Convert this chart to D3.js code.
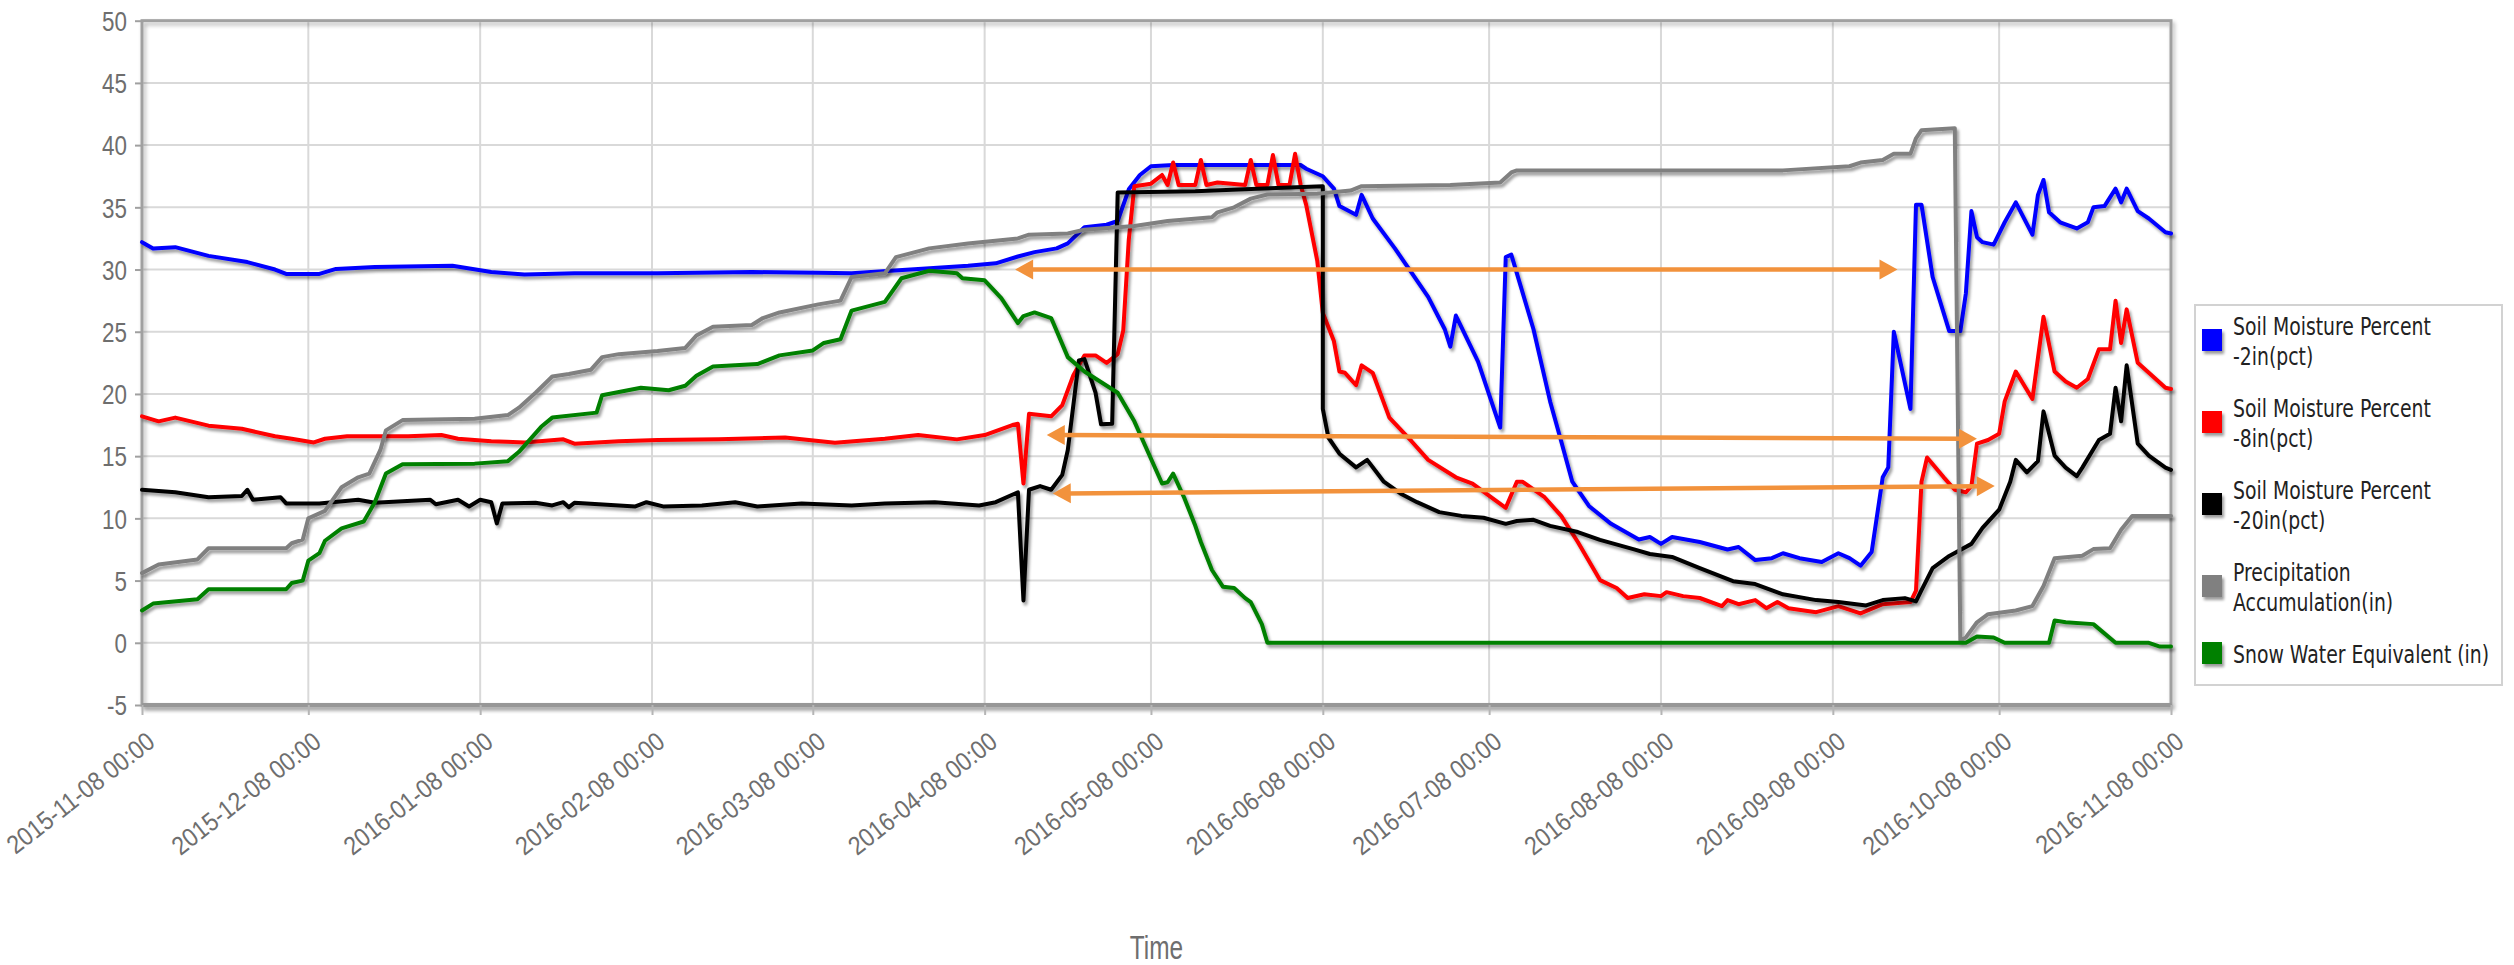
<!DOCTYPE html>
<html>
<head>
<meta charset="utf-8">
<script src="https://cdn.jsdelivr.net/npm/d3@7"></script>
<style>
  html, body { margin: 0; padding: 0; background: #ffffff; }
  svg { display: block; }
</style>
</head>
<body>
<svg id="chart" width="2514" height="965"></svg>
<script>
// ---- data -------------------------------------------------------------
const monthTicks = ["2015-11-08","2015-12-08","2016-01-08","2016-02-08","2016-03-08","2016-04-08",
  "2016-05-08","2016-06-08","2016-07-08","2016-08-08","2016-09-08","2016-10-08","2016-11-08"];
const valueTicks = [-5, 0, 5, 10, 15, 20, 25, 30, 35, 40, 45, 50];

const soilMoisture2in = [
  ["2015-11-08",32.2],["2015-11-10",31.7],["2015-11-14",31.8],["2015-11-20",31.1],["2015-11-27",30.6],
  ["2015-12-02",30.0],["2015-12-04",29.65],["2015-12-10",29.65],["2015-12-13",30.05],["2015-12-20",30.2],
  ["2016-01-03",30.3],["2016-01-10",29.8],["2016-01-16",29.6],["2016-01-25",29.7],["2016-02-09",29.7],
  ["2016-02-26",29.8],["2016-03-09",29.75],["2016-03-15",29.7],["2016-03-27",30.05],["2016-04-05",30.3],
  ["2016-04-10",30.5],["2016-04-14",31.05],["2016-04-17",31.4],["2016-04-21",31.7],["2016-04-23",32.1],
  ["2016-04-26",33.4],["2016-04-30",33.6],["2016-05-02",33.9],["2016-05-04",36.45],["2016-05-06",37.6],
  ["2016-05-08",38.3],["2016-05-12",38.4],["2016-06-04",38.4],["2016-06-05",38.1],["2016-06-08",37.5],
  ["2016-06-10",36.5],["2016-06-11",35.1],["2016-06-14",34.4],["2016-06-15",36.0],["2016-06-17",34.1],
  ["2016-06-21",31.7],["2016-06-27",27.8],["2016-06-30",25.2],["2016-07-01",23.8],["2016-07-02",26.3],
  ["2016-07-06",22.6],["2016-07-10",17.3],["2016-07-11",31.0],["2016-07-12",31.2],["2016-07-16",25.2],
  ["2016-07-19",19.4],["2016-07-21",16.2],["2016-07-23",12.95],["2016-07-26",11.0],["2016-07-30",9.56],
  ["2016-08-04",8.3],["2016-08-06",8.5],["2016-08-08",7.95],["2016-08-10",8.5],["2016-08-15",8.1],
  ["2016-08-20",7.5],["2016-08-22",7.7],["2016-08-25",6.65],["2016-08-28",6.8],["2016-08-30",7.2],
  ["2016-09-02",6.8],["2016-09-06",6.5],["2016-09-09",7.2],["2016-09-11",6.8],["2016-09-13",6.2],
  ["2016-09-15",7.3],["2016-09-17",13.3],["2016-09-18",14.1],["2016-09-19",25.0],["2016-09-22",18.8],
  ["2016-09-23",35.2],["2016-09-24",35.2],["2016-09-26",29.4],["2016-09-28",26.5],["2016-09-29",25.05],
  ["2016-10-01",25.05],["2016-10-02",28.1],["2016-10-03",34.7],["2016-10-04",32.6],["2016-10-05",32.2],
  ["2016-10-07",32.0],["2016-10-09",33.8],["2016-10-11",35.4],["2016-10-14",32.8],["2016-10-15",36.0],
  ["2016-10-16",37.2],["2016-10-17",34.6],["2016-10-19",33.8],["2016-10-22",33.3],["2016-10-24",33.8],
  ["2016-10-25",35.0],["2016-10-27",35.1],["2016-10-29",36.5],["2016-10-30",35.4],["2016-10-31",36.5],
  ["2016-11-02",34.7],["2016-11-04",34.1],["2016-11-07",33.0],["2016-11-08",32.9]
];

const soilMoisture8in = [
  ["2015-11-08",18.2],["2015-11-11",17.8],["2015-11-14",18.1],["2015-11-20",17.45],["2015-11-26",17.2],
  ["2015-12-02",16.6],["2015-12-05",16.4],["2015-12-09",16.1],["2015-12-11",16.4],["2015-12-15",16.6],
  ["2015-12-26",16.6],["2016-01-01",16.7],["2016-01-04",16.4],["2016-01-10",16.2],["2016-01-16",16.1],
  ["2016-01-23",16.35],["2016-01-25",16.0],["2016-02-02",16.2],["2016-02-09",16.3],["2016-02-20",16.35],
  ["2016-03-03",16.5],["2016-03-12",16.07],["2016-03-21",16.4],["2016-03-27",16.7],["2016-04-03",16.35],
  ["2016-04-08",16.7],["2016-04-13",17.5],["2016-04-14",17.6],["2016-04-15",12.8],["2016-04-16",18.4],
  ["2016-04-20",18.2],["2016-04-22",19.1],["2016-04-24",21.5],["2016-04-26",23.1],["2016-04-28",23.1],
  ["2016-04-30",22.5],["2016-05-02",23.2],["2016-05-03",25.1],["2016-05-04",32.4],["2016-05-05",36.7],
  ["2016-05-08",36.9],["2016-05-10",37.6],["2016-05-11",36.8],["2016-05-12",38.6],["2016-05-13",36.8],
  ["2016-05-16",36.8],["2016-05-17",38.8],["2016-05-18",36.8],["2016-05-20",37.0],["2016-05-25",36.8],
  ["2016-05-26",38.8],["2016-05-27",36.8],["2016-05-29",36.8],["2016-05-30",39.2],["2016-05-31",36.8],
  ["2016-06-02",36.8],["2016-06-03",39.3],["2016-06-04",36.8],["2016-06-05",35.2],["2016-06-07",30.7],
  ["2016-06-08",26.5],["2016-06-10",24.25],["2016-06-11",21.8],["2016-06-12",21.7],["2016-06-14",20.7],
  ["2016-06-15",22.3],["2016-06-17",21.7],["2016-06-20",18.1],["2016-06-24",16.2],["2016-06-27",14.7],
  ["2016-07-02",13.3],["2016-07-05",12.8],["2016-07-11",10.85],["2016-07-13",12.95],["2016-07-14",12.95],
  ["2016-07-18",11.7],["2016-07-21",10.2],["2016-07-24",8.1],["2016-07-28",5.04],["2016-07-31",4.4],
  ["2016-08-02",3.6],["2016-08-05",3.9],["2016-08-08",3.75],["2016-08-09",4.07],["2016-08-12",3.75],
  ["2016-08-15",3.6],["2016-08-19",2.95],["2016-08-20",3.43],["2016-08-22",3.1],["2016-08-25",3.43],
  ["2016-08-27",2.78],["2016-08-29",3.27],["2016-08-31",2.78],["2016-09-05",2.46],["2016-09-09",2.95],
  ["2016-09-13",2.36],["2016-09-17",3.1],["2016-09-22",3.27],["2016-09-23",4.2],["2016-09-24",12.95],
  ["2016-09-25",14.9],["2016-09-28",13.3],["2016-09-30",12.3],["2016-10-02",12.1],["2016-10-03",12.6],
  ["2016-10-04",16.0],["2016-10-06",16.3],["2016-10-08",16.8],["2016-10-09",19.4],["2016-10-11",21.8],
  ["2016-10-14",19.6],["2016-10-16",26.2],["2016-10-18",21.8],["2016-10-20",21.0],["2016-10-22",20.5],
  ["2016-10-24",21.2],["2016-10-26",23.6],["2016-10-28",23.6],["2016-10-29",27.5],["2016-10-30",24.1],
  ["2016-10-31",26.8],["2016-11-02",22.5],["2016-11-04",21.7],["2016-11-07",20.5],["2016-11-08",20.4]
];

const soilMoisture20in = [
  ["2015-11-08",12.3],["2015-11-14",12.1],["2015-11-20",11.7],["2015-11-26",11.8],["2015-11-27",12.3],
  ["2015-11-28",11.5],["2015-12-03",11.7],["2015-12-04",11.2],["2015-12-10",11.2],["2015-12-17",11.5],
  ["2015-12-20",11.25],["2015-12-30",11.5],["2015-12-31",11.13],["2016-01-04",11.5],["2016-01-06",10.96],
  ["2016-01-08",11.5],["2016-01-10",11.3],["2016-01-11",9.6],["2016-01-12",11.2],["2016-01-18",11.25],
  ["2016-01-21",11.04],["2016-01-23",11.3],["2016-01-24",10.9],["2016-01-25",11.25],["2016-02-05",10.96],
  ["2016-02-07",11.3],["2016-02-10",10.96],["2016-02-17",11.04],["2016-02-23",11.3],["2016-02-27",10.96],
  ["2016-03-06",11.2],["2016-03-15",11.04],["2016-03-21",11.2],["2016-03-30",11.3],["2016-04-07",11.04],
  ["2016-04-10",11.3],["2016-04-14",12.1],["2016-04-15",3.4],["2016-04-16",12.3],["2016-04-18",12.6],
  ["2016-04-20",12.3],["2016-04-22",13.5],["2016-04-23",15.5],["2016-04-25",22.7],["2016-04-26",22.8],
  ["2016-04-28",20.1],["2016-04-29",17.56],["2016-05-01",17.6],["2016-05-02",36.2],["2016-05-16",36.3],
  ["2016-06-08",36.7],["2016-06-08",18.8],["2016-06-09",16.5],["2016-06-11",15.2],["2016-06-14",14.1],
  ["2016-06-16",14.7],["2016-06-19",12.95],["2016-06-22",12.0],["2016-06-25",11.3],["2016-06-29",10.5],
  ["2016-07-03",10.2],["2016-07-07",10.05],["2016-07-11",9.56],["2016-07-13",9.79],["2016-07-16",9.88],
  ["2016-07-19",9.4],["2016-07-24",8.9],["2016-07-28",8.27],["2016-08-03",7.53],["2016-08-06",7.14],
  ["2016-08-10",6.9],["2016-08-15",6.0],["2016-08-21",4.95],["2016-08-25",4.72],["2016-08-30",3.9],
  ["2016-09-05",3.43],["2016-09-09",3.27],["2016-09-14",3.0],["2016-09-17",3.43],["2016-09-21",3.59],
  ["2016-09-23",3.33],["2016-09-24",4.23],["2016-09-26",6.0],["2016-09-29",6.98],["2016-10-03",7.95],
  ["2016-10-05",9.24],["2016-10-08",10.7],["2016-10-10",12.95],["2016-10-11",14.7],["2016-10-13",13.7],
  ["2016-10-15",14.6],["2016-10-16",18.6],["2016-10-18",15.05],["2016-10-20",14.08],["2016-10-22",13.4],
  ["2016-10-23",14.08],["2016-10-26",16.3],["2016-10-28",16.8],["2016-10-29",20.5],["2016-10-30",17.8],
  ["2016-10-31",22.3],["2016-11-02",16.0],["2016-11-04",15.05],["2016-11-07",14.08],["2016-11-08",13.9]
];

const precipAccumulation = [
  ["2015-11-08",5.6],["2015-11-11",6.3],["2015-11-18",6.7],["2015-11-20",7.6],["2015-12-04",7.6],
  ["2015-12-05",8.0],["2015-12-07",8.3],["2015-12-08",10.0],["2015-12-11",10.6],["2015-12-14",12.5],
  ["2015-12-17",13.3],["2015-12-19",13.6],["2015-12-21",15.5],["2015-12-22",17.07],["2015-12-25",17.9],
  ["2016-01-07",18.0],["2016-01-13",18.3],["2016-01-15",18.9],["2016-01-18",20.1],["2016-01-21",21.4],
  ["2016-01-24",21.6],["2016-01-28",21.95],["2016-01-30",22.96],["2016-02-02",23.2],["2016-02-09",23.45],
  ["2016-02-14",23.7],["2016-02-16",24.7],["2016-02-19",25.4],["2016-02-26",25.54],["2016-02-28",26.1],
  ["2016-03-02",26.55],["2016-03-09",27.2],["2016-03-13",27.5],["2016-03-15",29.4],["2016-03-21",29.7],
  ["2016-03-23",31.0],["2016-03-29",31.7],["2016-04-05",32.1],["2016-04-14",32.5],["2016-04-16",32.8],
  ["2016-04-23",32.9],["2016-04-26",33.2],["2016-05-05",33.5],["2016-05-11",33.9],["2016-05-19",34.2],
  ["2016-05-20",34.6],["2016-05-23",35.0],["2016-05-26",35.7],["2016-05-29",36.03],["2016-06-07",36.1],
  ["2016-06-13",36.35],["2016-06-15",36.7],["2016-07-01",36.8],["2016-07-10",37.0],["2016-07-12",37.8],
  ["2016-07-13",37.97],["2016-08-30",37.97],["2016-09-11",38.3],["2016-09-13",38.6],["2016-09-17",38.8],
  ["2016-09-19",39.3],["2016-09-22",39.3],["2016-09-23",40.55],["2016-09-24",41.2],["2016-09-30",41.36],
  ["2016-10-01",0.2],["2016-10-02",0.43],["2016-10-04",1.65],["2016-10-06",2.3],["2016-10-11",2.6],
  ["2016-10-14",2.95],["2016-10-16",4.56],["2016-10-18",6.8],["2016-10-23",7.0],["2016-10-25",7.53],
  ["2016-10-28",7.6],["2016-10-30",9.08],["2016-11-01",10.2],["2016-11-08",10.2]
];

const snowWaterEquivalent = [
  ["2015-11-08",2.6],["2015-11-10",3.15],["2015-11-18",3.5],["2015-11-20",4.3],["2015-12-04",4.3],
  ["2015-12-05",4.8],["2015-12-07",5.0],["2015-12-08",6.6],["2015-12-10",7.2],["2015-12-11",8.2],
  ["2015-12-14",9.2],["2015-12-18",9.75],["2015-12-20",11.3],["2015-12-22",13.6],["2015-12-25",14.35],
  ["2016-01-07",14.4],["2016-01-13",14.6],["2016-01-15",15.35],["2016-01-19",17.36],["2016-01-21",18.1],
  ["2016-01-29",18.5],["2016-01-30",19.9],["2016-02-06",20.5],["2016-02-11",20.3],["2016-02-14",20.66],
  ["2016-02-16",21.46],["2016-02-19",22.2],["2016-02-27",22.4],["2016-03-02",23.1],["2016-03-08",23.5],
  ["2016-03-10",24.1],["2016-03-13",24.4],["2016-03-15",26.7],["2016-03-21",27.4],["2016-03-24",29.3],
  ["2016-03-29",29.9],["2016-04-03",29.7],["2016-04-04",29.3],["2016-04-08",29.13],["2016-04-11",27.7],
  ["2016-04-14",25.7],["2016-04-15",26.26],["2016-04-17",26.55],["2016-04-20",26.1],["2016-04-23",22.96],
  ["2016-04-26",21.8],["2016-05-02",20.1],["2016-05-05",17.8],["2016-05-07",15.8],["2016-05-10",12.8],
  ["2016-05-11",12.9],["2016-05-12",13.6],["2016-05-14",11.66],["2016-05-16",9.4],["2016-05-17",8.1],
  ["2016-05-19",5.85],["2016-05-21",4.5],["2016-05-23",4.4],["2016-05-25",3.59],["2016-05-26",3.27],
  ["2016-05-28",1.5],["2016-05-29",0],["2016-10-02",0],["2016-10-04",0.5],["2016-10-07",0.43],
  ["2016-10-09",0],["2016-10-17",0],["2016-10-18",1.8],["2016-10-20",1.65],["2016-10-25",1.5],
  ["2016-10-29",0],["2016-11-04",0],["2016-11-06",-0.3],["2016-11-08",-0.3]
];

const seriesNames = [
  ["Soil Moisture Percent", "-2in(pct)"],
  ["Soil Moisture Percent", "-8in(pct)"],
  ["Soil Moisture Percent", "-20in(pct)"],
  ["Precipitation", "Accumulation(in)"],
  ["Snow Water Equivalent (in)"]
];

// annotation arrows: [start time, start value, end time, end value]
const arrowNotes = [
  ["2016-04-13 12:00", 30.0, "2016-09-19 16:00", 30.0],
  ["2016-04-19 05:00", 16.7, "2016-10-04 00:00", 16.4],
  ["2016-04-20 07:00", 12.0, "2016-10-07 05:00", 12.6]
];

// ---- setup ------------------------------------------------------------
const seriesColors = ["#0000ff", "#ff0000", "#000000", "#808080", "#008000"];
const allSeries = [soilMoisture2in, soilMoisture8in, soilMoisture20in, precipAccumulation, snowWaterEquivalent];

const parseDay = d3.timeParse("%Y-%m-%d");
const parseStamp = d3.timeParse("%Y-%m-%d %H:%M");
const fmtTick = d3.timeFormat("%Y-%m-%d %H:%M");

const plot = { left: 142, right: 2171, top: 20.7, bottom: 705 };

const x = d3.scaleTime()
  .domain([parseDay(monthTicks[0]), parseDay(monthTicks[monthTicks.length - 1])])
  .range([plot.left, plot.right]);
const y = d3.scaleLinear().domain([-5, 50]).range([plot.bottom, plot.top]);

const svg = d3.select("#chart");
const defs = svg.append("defs");

function addShadow(id, dx, dy, blur, opacity) {
  const f = defs.append("filter").attr("id", id)
    .attr("filterUnits", "userSpaceOnUse")
    .attr("x", 0).attr("y", 0).attr("width", 2514).attr("height", 965);
  f.append("feGaussianBlur").attr("in", "SourceAlpha").attr("stdDeviation", blur).attr("result", "b");
  f.append("feOffset").attr("in", "b").attr("dx", dx).attr("dy", dy).attr("result", "o");
  f.append("feComponentTransfer").attr("in", "o").attr("result", "s")
    .append("feFuncA").attr("type", "linear").attr("slope", opacity);
  const m = f.append("feMerge");
  m.append("feMergeNode").attr("in", "s");
  m.append("feMergeNode").attr("in", "SourceGraphic");
}
addShadow("lineShadow", 1.5, 2.5, 1.5, 0.4);
addShadow("frameShadow", 2, 3, 2, 0.3);

const labelFont = "'Liberation Sans', Arial, sans-serif";

// ---- grid -------------------------------------------------------------
const grid = svg.append("g").attr("class", "grid");
grid.selectAll("line.h").data(valueTicks).join("line")
  .attr("class", "h")
  .attr("x1", plot.left).attr("x2", plot.right)
  .attr("y1", d => y(d)).attr("y2", d => y(d))
  .attr("stroke", "#d9d9d9").attr("stroke-width", 2);
grid.selectAll("line.v").data(monthTicks).join("line")
  .attr("class", "v")
  .attr("x1", d => x(parseDay(d))).attr("x2", d => x(parseDay(d)))
  .attr("y1", plot.top).attr("y2", plot.bottom)
  .attr("stroke", "#d9d9d9").attr("stroke-width", 2);

// ---- frame ------------------------------------------------------------
svg.append("rect")
  .attr("x", plot.left).attr("y", plot.top)
  .attr("width", plot.right - plot.left).attr("height", plot.bottom - plot.top)
  .attr("fill", "none").attr("stroke", "#a0a0a0").attr("stroke-width", 3)
  .attr("filter", "url(#frameShadow)");
svg.append("line")
  .attr("x1", plot.left).attr("x2", plot.right)
  .attr("y1", plot.bottom).attr("y2", plot.bottom)
  .attr("stroke", "#979797").attr("stroke-width", 4)
  .attr("filter", "url(#frameShadow)");

// ---- axes -------------------------------------------------------------
const xAxis = d3.axisBottom(x)
  .tickValues(monthTicks.map(parseDay))
  .tickSize(10).tickPadding(0)
  .tickFormat(fmtTick);
const gx = svg.append("g").attr("transform", `translate(0,${plot.bottom})`).call(xAxis);
gx.select(".domain").remove();
gx.selectAll(".tick line").attr("stroke", "#b5b5b5").attr("stroke-width", 2);
gx.selectAll(".tick text")
  .attr("x", 0).attr("y", 0).attr("dy", 0)
  .attr("text-anchor", "end")
  .attr("transform", "translate(14,40) rotate(-38) scale(0.88,1)")
  .attr("fill", "#6e6e6e")
  .style("font-family", labelFont).style("font-size", "26px");

const yAxis = d3.axisLeft(y)
  .tickValues(valueTicks)
  .tickSize(7)
  .tickFormat(d => String(d));
const gy = svg.append("g").attr("transform", `translate(${plot.left},0)`).call(yAxis);
gy.select(".domain").remove();
gy.selectAll(".tick line").attr("stroke", "#a0a0a0").attr("stroke-width", 2);
gy.selectAll(".tick text")
  .attr("x", 0).attr("dy", "0.35em")
  .attr("text-anchor", "end")
  .attr("transform", "translate(-15,0) scale(0.8,1)")
  .attr("fill", "#6e6e6e")
  .style("font-family", labelFont).style("font-size", "28px");

svg.append("text")
  .attr("transform", `translate(${(plot.left + plot.right) / 2},959) scale(0.74,1)`)
  .attr("text-anchor", "middle")
  .attr("fill", "#6e6e6e")
  .style("font-family", labelFont).style("font-size", "33px")
  .text("Time");

// ---- series -----------------------------------------------------------
const line = d3.line()
  .x(d => x(parseDay(d[0])))
  .y(d => y(d[1]));

svg.append("g").selectAll("path").data(allSeries).join("path")
  .attr("d", line)
  .attr("fill", "none")
  .attr("stroke", (d, i) => seriesColors[i])
  .attr("stroke-width", 4)
  .attr("stroke-linejoin", "round")
  .attr("stroke-linecap", "round")
  .attr("filter", "url(#lineShadow)");

// ---- annotation arrows ------------------------------------------------
const arrowColor = "#f2923c";
const arrows = svg.append("g");
function head(tipX, tipY, dirX, dirY) {
  const len = 18, half = 10;
  const bx = tipX - dirX * len, by = tipY - dirY * len;
  const nx = -dirY, ny = dirX;
  return `M${tipX},${tipY}L${bx + nx * half},${by + ny * half}L${bx - nx * half},${by - ny * half}Z`;
}
arrowNotes.forEach(a => {
  const x1 = x(parseStamp(a[0])), y1 = y(a[1]);
  const x2 = x(parseStamp(a[2])), y2 = y(a[3]);
  const len = Math.hypot(x2 - x1, y2 - y1);
  const ux = (x2 - x1) / len, uy = (y2 - y1) / len;
  arrows.append("line")
    .attr("x1", x1 + ux * 14).attr("y1", y1 + uy * 14)
    .attr("x2", x2 - ux * 14).attr("y2", y2 - uy * 14)
    .attr("stroke", arrowColor).attr("stroke-width", 4.5);
  arrows.append("path").attr("d", head(x2, y2, ux, uy)).attr("fill", arrowColor);
  arrows.append("path").attr("d", head(x1, y1, -ux, -uy)).attr("fill", arrowColor);
});

// ---- legend -----------------------------------------------------------
const legend = svg.append("g");
legend.append("rect")
  .attr("x", 2195).attr("y", 305).attr("width", 307).attr("height", 380)
  .attr("fill", "#ffffff").attr("stroke", "#d2d2d2").attr("stroke-width", 2);

const items = legend.selectAll("g.item").data(seriesNames).join("g").attr("class", "item");
items.each(function (lines, i) {
  const g = d3.select(this);
  const base = 335 + i * 82;
  const last = base + (lines.length - 1) * 30;
  g.append("rect")
    .attr("x", 2202).attr("y", (base + last) / 2 - 10 - 11)
    .attr("width", 20).attr("height", 22)
    .attr("fill", seriesColors[i])
    .attr("filter", "url(#lineShadow)");
  lines.forEach((t, k) => {
    g.append("text")
      .attr("transform", `translate(2233,${base + k * 30}) scale(0.785,1)`)
      .attr("fill", "#222222")
      .style("font-family", "'DejaVu Sans', Verdana, sans-serif")
      .style("font-size", "24px")
      .text(t);
  });
});
</script>
</body>
</html>
